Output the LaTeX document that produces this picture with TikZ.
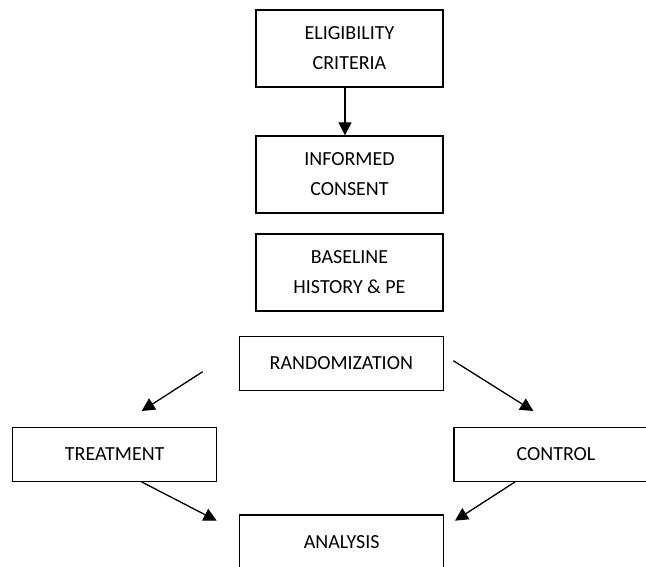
\documentclass[tikz,border=0pt]{standalone}
\usepackage{fontspec}
\setmainfont{Carlito}
\usetikzlibrary{arrows.meta,calc}
\begin{document}
\begin{tikzpicture}[x=1pt,y=-1pt,
  box/.style={draw=black, line width=1.3pt, inner sep=0pt, align=center,
    font=\fontsize{20}{30}\selectfont},
  tallbox/.style={box, minimum width=187pt, minimum height=77pt},
  widebox/.style={box, minimum width=204pt, minimum height=54pt},
  arr/.style={line width=1.3pt, -{Triangle[length=13pt,width=13pt]}}]
\useasboundingbox (0,0) rectangle (646,567);
\node[tallbox] (elig) at (349.5,48.5) {ELIGIBILITY\\CRITERIA};
\node[tallbox] (inf) at (349.5,174.5) {INFORMED\\CONSENT};
\node[tallbox] (base) at (349.5,272.5) {BASELINE\\HISTORY \& PE};
\node[widebox] (rand) at (341.3,363.2) {RANDOMIZATION};
\node[widebox] (treat) at (114.7,454.3) {TREATMENT};
\node[widebox] (ctrl) at (556,454.3) {CONTROL};
\node[widebox] (anal) at (341.7,542) {ANALYSIS};
\coordinate (rl) at (202.7,371.7);
\coordinate (rlt) at (141.7,411);
\coordinate (rr) at (453.3,360.7);
\coordinate (rrt) at (533.3,411);
\coordinate (atl) at (216.7,520.7);
\coordinate (atr) at (455,520.7);
\draw[arr] ($(elig.south)+(-4.5,0)$) -- ($(inf.north)+(-4.5,0)$);
\draw[arr] (rl) -- (rlt);
\draw[arr] (rr) -- (rrt);
\draw[arr] (treat.south -| 141.7,0) -- (atl);
\draw[arr] (ctrl.south -| 515,0) -- (atr);
\end{tikzpicture}
\end{document}
